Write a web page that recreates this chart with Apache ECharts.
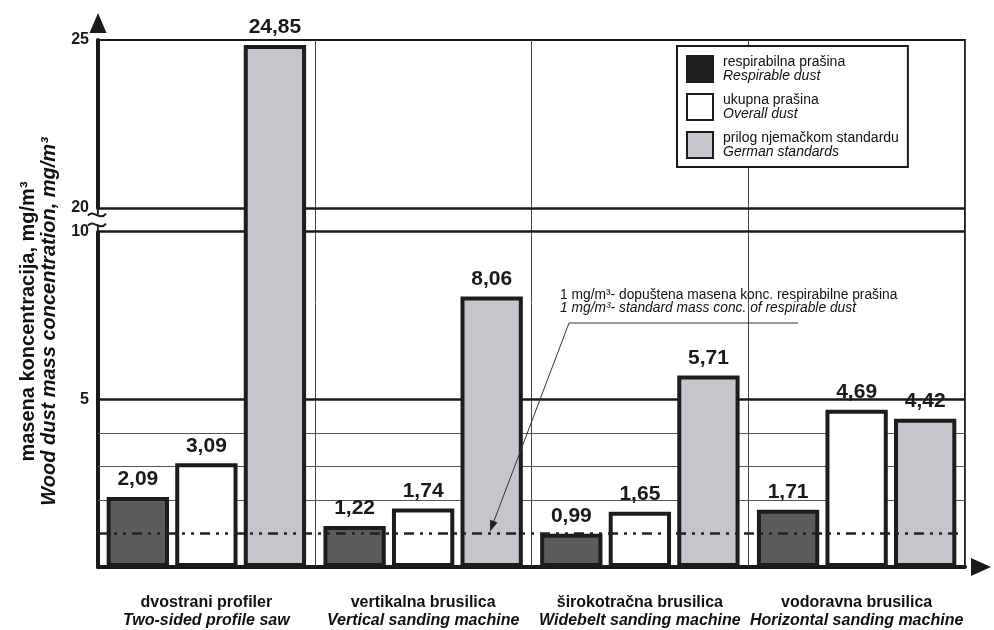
<!DOCTYPE html>
<html>
<head>
<meta charset="utf-8">
<title>Masena koncentracija drvne prašine</title>
<script src="https://cdn.jsdelivr.net/npm/echarts@6.0.0/dist/echarts.min.js"></script>
<style>
  html, body { margin: 0; padding: 0; background: #fff; }
  #chart { width: 994px; height: 630px; }
</style>
</head>
<body>
<div id="chart"></div>
<script>
  // strojevi (hrvatski / engleski)
  const machinesHr = ['dvostrani profiler', 'vertikalna brusilica', 'širokotračna brusilica', 'vodoravna brusilica'];
  const machinesEn = ['Two-sided profile saw', 'Vertical sanding machine', 'Widebelt sanding machine', 'Horizontal sanding machine'];

  // mg/m3
  const respirable = [2.09, 1.22, 0.99, 1.71];
  const overall = [3.09, 1.74, 1.65, 4.69];
  const german = [24.85, 8.06, 5.71, 4.42];

  const seriesHr = ['respirabilna prašina', 'ukupna prašina', 'prilog njemačkom standardu'];
  const seriesEn = ['Respirable dust', 'Overall dust', 'German standards'];

  const yTicks = [5, 10, 20, 25];
  const thinLines = [2, 3, 4];
  const thickLines = [5, 10, 20];
  const limit = 1; // dopuštena konc. respirabilne prašine
  const breakFrom = 10, breakTo = 20;

  const FONT = "'Liberation Sans', Arial, sans-serif";
  const INK = '#1a1a1a';

  let myChart = echarts.init(document.getElementById('chart'));

  function fmt(v) {
    return v.toFixed(2).replace('.', ',');
  }

  function barSeries(name, values, fill) {
    return {
      name: name,
      type: 'bar',
      data: values,
      barGap: '10%',
      barCategoryGap: '8%',
      itemStyle: { color: fill, borderColor: '#1c1c1c', borderWidth: 4 },
      label: {
        show: true,
        position: 'top',
        distance: 7,
        fontSize: 21,
        fontWeight: 'bold',
        color: INK,
        formatter: p => fmt(p.value)
      }
    };
  }

  let s1 = barSeries(seriesHr[0], respirable, '#5b5b5d');
  // mreža iza stupaca
  s1.markLine = {
    z: 1,
    silent: true,
    symbol: 'none',
    label: { show: false },
    data: thinLines.map(v => ({ yAxis: v, lineStyle: { width: 1, color: '#555', type: 'solid' } }))
      .concat(thickLines.map(v => ({ yAxis: v, lineStyle: { width: 2.5, color: INK, type: 'solid' } })))
  };
  let s2 = barSeries(seriesHr[1], overall, '#ffffff');
  // granica 1 mg/m3 preko stupaca
  s2.markLine = {
    z: 5,
    silent: true,
    symbol: 'none',
    label: { show: false },
    lineStyle: { type: [10, 6, 3, 6, 3, 6], width: 2.5, color: '#222' },
    data: [{ yAxis: limit }]
  };
  let s3 = barSeries(seriesHr[2], german, '#c5c6ca');

  myChart.setOption({
    animation: false,
    textStyle: { fontFamily: FONT },
    grid: { left: 98, right: 29, top: 40, bottom: 63, show: true, borderColor: INK, borderWidth: 2 },
    legend: {
      orient: 'vertical',
      left: 677,
      top: 46,
      backgroundColor: '#fff',
      borderColor: INK,
      borderWidth: 2,
      borderRadius: 0,
      padding: [9, 9, 8, 9],
      itemWidth: 26,
      itemHeight: 26,
      itemGap: 10,
      icon: 'rect',
      data: [{ name: seriesHr[0], itemStyle: { color: '#1e1e1e' } }, seriesHr[1], seriesHr[2]],
      formatter: name => {
        let i = seriesHr.indexOf(name);
        return '{a|' + name + '}\n{b|' + seriesEn[i] + '}';
      },
      textStyle: {
        padding: [0, 0, 0, 5],
        rich: {
          a: { fontSize: 14, lineHeight: 13.5, color: '#111', fontFamily: FONT },
          b: { fontSize: 14, lineHeight: 13.5, color: '#111', fontStyle: 'italic', fontFamily: FONT }
        }
      }
    },
    xAxis: {
      type: 'category',
      data: machinesHr,
      axisLine: {
        lineStyle: { color: INK, width: 4 },
        symbol: ['none', 'triangle'],
        symbolSize: [18, 20],
        symbolOffset: [0, 16]
      },
      axisTick: { show: false },
      splitLine: { show: true, lineStyle: { color: '#444', width: 1 } },
      axisLabel: {
        interval: 0,
        hideOverlap: false,
        margin: 27,
        formatter: (v, i) => '{a|' + v + '}\n{b|' + machinesEn[i] + '}',
        rich: {
          a: { fontSize: 16, fontWeight: 'bold', lineHeight: 18, color: '#111', fontFamily: FONT },
          b: { fontSize: 16, fontWeight: 'bold', fontStyle: 'italic', lineHeight: 18, color: '#111', fontFamily: FONT }
        }
      }
    },
    yAxis: {
      type: 'value',
      min: 0,
      max: 25,
      interval: 5,
      breaks: [{ start: breakFrom, end: breakTo, gap: '4.5%' }],
      breakArea: { show: false },
      axisLine: {
        show: true,
        lineStyle: { color: INK, width: 4 },
        symbol: ['none', 'triangle'],
        symbolSize: [17, 20],
        symbolOffset: [0, 17]
      },
      axisTick: { show: false },
      splitLine: { show: false },
      axisLabel: {
        margin: 9,
        fontSize: 16,
        fontWeight: 'bold',
        color: INK,
        formatter: v => yTicks.includes(v) ? String(v) : ''
      }
    },
    series: [s1, s2, s3]
  });

  // prekid osi, naslov osi y i napomena
  let yOf = v => myChart.convertToPixel({ yAxisIndex: 0 }, v);
  let mid = (yOf(breakFrom) + yOf(breakTo)) / 2;
  let y1 = yOf(limit);

  let tip = [490, y1 - 2], from = [569, 323];
  let dx = tip[0] - from[0], dy = tip[1] - from[1];
  let len = Math.sqrt(dx * dx + dy * dy);
  let ux = dx / len, uy = dy / len;
  let head = [
    tip,
    [tip[0] - ux * 11 - uy * 4, tip[1] - uy * 11 + ux * 4],
    [tip[0] - ux * 11 + uy * 4, tip[1] - uy * 11 - ux * 4]
  ];

  myChart.setOption({
    graphic: [
      { type: 'rect', shape: { x: 93, y: mid - 5, width: 10, height: 10 }, style: { fill: '#fff' }, z: 100 },
      { type: 'bezierCurve', shape: { x1: 88, y1: mid - 4, cpx1: 93, cpy1: mid - 11, cpx2: 100, cpy2: mid + 2, x2: 106, y2: mid - 6 }, style: { stroke: INK, lineWidth: 2, fill: null }, z: 101 },
      { type: 'bezierCurve', shape: { x1: 88, y1: mid + 6, cpx1: 93, cpy1: mid - 1, cpx2: 100, cpy2: mid + 12, x2: 106, y2: mid + 4 }, style: { stroke: INK, lineWidth: 2, fill: null }, z: 101 },
      {
        type: 'text',
        x: 39,
        y: (40 + 567) / 2 + 18,
        rotation: Math.PI / 2,
        style: {
          text: '{a|masena koncentracija, mg/m³}\n{b|Wood dust mass concentration, mg/m³}',
          align: 'center',
          verticalAlign: 'middle',
          rich: {
            a: { fontSize: 20, fontWeight: 'bold', lineHeight: 21, fill: '#111', fontFamily: FONT, align: 'center' },
            b: { fontSize: 20, fontWeight: 'bold', fontStyle: 'italic', lineHeight: 21, fill: '#111', fontFamily: FONT, align: 'center' }
          }
        }
      },
      {
        type: 'text',
        x: 560,
        y: 289,
        z: 50,
        style: {
          text: '{a|1 mg/m³- dopuštena masena konc. respirabilne prašina}\n{b|1 mg/m³- standard mass conc. of respirable dust}',
          rich: {
            a: { fontSize: 13.8, lineHeight: 13, fill: '#111', fontFamily: FONT },
            b: { fontSize: 13.8, lineHeight: 13, fill: '#111', fontStyle: 'italic', fontFamily: FONT }
          }
        }
      },
      { type: 'polyline', z: 50, shape: { points: [[798, 323], from, tip] }, style: { stroke: '#333', lineWidth: 1, fill: null } },
      { type: 'polygon', z: 50, shape: { points: head }, style: { fill: '#222' } }
    ]
  });
</script>
</body>
</html>
